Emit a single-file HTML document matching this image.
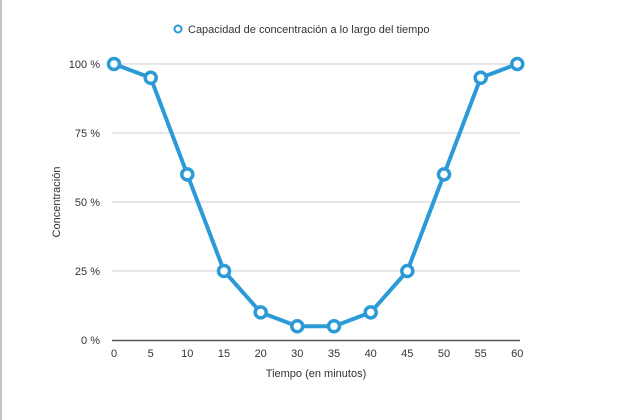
<!DOCTYPE html>
<html><head><meta charset="utf-8"><style>
html,body{margin:0;padding:0;background:#fff;}
svg{display:block;font-family:"Liberation Sans",Arial,sans-serif;}
</style></head><body>
<svg width="630" height="420" viewBox="0 0 630 420" xmlns="http://www.w3.org/2000/svg">
<rect x="0" y="0" width="630" height="420" fill="#fff"/>
<line x1="1" y1="0" x2="1" y2="420" stroke="#b0b0b0" stroke-width="1.5"/>
<g stroke="#cfcfcf" stroke-width="1">
<line x1="112" y1="64" x2="520" y2="64"/>
<line x1="112" y1="133" x2="520" y2="133"/>
<line x1="112" y1="202" x2="520" y2="202"/>
<line x1="112" y1="271" x2="520" y2="271"/>
</g>
<line x1="112" y1="340.5" x2="520" y2="340.5" stroke="#555" stroke-width="1.5"/>
<g font-size="11" fill="#333" text-anchor="end">
<text x="100" y="68">100 %</text>
<text x="100" y="137">75 %</text>
<text x="100" y="206">50 %</text>
<text x="100" y="275">25 %</text>
<text x="100" y="344">0 %</text>
</g>
<g font-size="11" fill="#333" text-anchor="middle">
<text x="114" y="357">0</text><text x="150.7" y="357">5</text><text x="187.3" y="357">10</text><text x="224" y="357">15</text><text x="260.7" y="357">20</text><text x="297.3" y="357">30</text><text x="334" y="357">35</text><text x="370.7" y="357">40</text><text x="407.3" y="357">45</text><text x="444" y="357">50</text><text x="480.7" y="357">55</text><text x="517.3" y="357">60</text>
<text x="316" y="377">Tiempo (en minutos)</text>
</g>
<text transform="translate(60,202) rotate(-90)" font-size="11" fill="#333" text-anchor="middle">Concentración</text>
<circle cx="178" cy="29" r="3.5" fill="#fff" stroke="#2b9ad6" stroke-width="2"/>
<text x="188" y="33" font-size="11" fill="#333">Capacidad de concentración a lo largo del tiempo</text>
<polyline fill="none" stroke="#2b9ad6" stroke-width="4" stroke-linejoin="round" points="114,64 150.7,77.8 187.3,174.4 224,271 260.7,312.4 297.3,326.2 334,326.2 370.7,312.4 407.3,271 444,174.4 480.7,77.8 517.3,64"/>
<g fill="#fff" stroke="#2b9ad6" stroke-width="3.5">
<circle cx="114" cy="64" r="5.5"/><circle cx="150.7" cy="77.8" r="5.5"/><circle cx="187.3" cy="174.4" r="5.5"/><circle cx="224" cy="271" r="5.5"/><circle cx="260.7" cy="312.4" r="5.5"/><circle cx="297.3" cy="326.2" r="5.5"/><circle cx="334" cy="326.2" r="5.5"/><circle cx="370.7" cy="312.4" r="5.5"/><circle cx="407.3" cy="271" r="5.5"/><circle cx="444" cy="174.4" r="5.5"/><circle cx="480.7" cy="77.8" r="5.5"/><circle cx="517.3" cy="64" r="5.5"/>
</g>
</svg>
</body></html>
